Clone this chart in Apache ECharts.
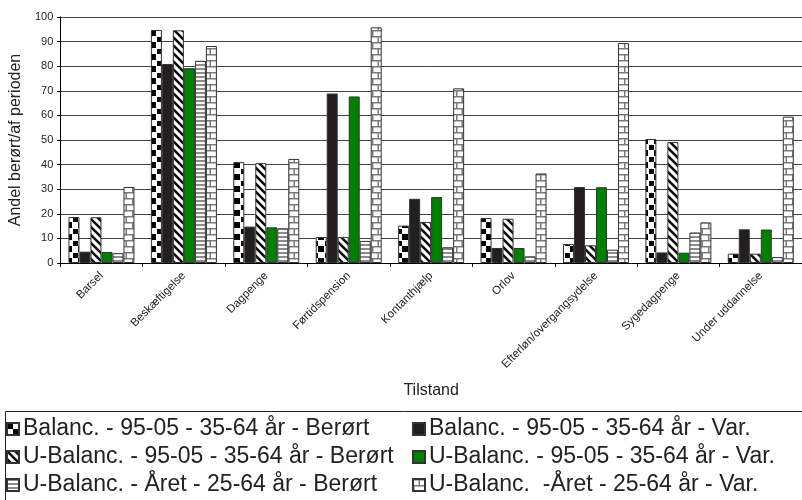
<!DOCTYPE html>
<html>
<head>
<meta charset="utf-8">
<script src="https://cdn.jsdelivr.net/npm/echarts@6/dist/echarts.min.js"></script>
<style>
  html, body { margin: 0; padding: 0; background: #fff; }
  #chart { width: 802px; height: 500px; }
</style>
</head>
<body>
<div id="chart"></div>
<script>
// Categories (Tilstand) and the six series, in percent
const categories = ['Barsel', 'Beskæftigelse', 'Dagpenge', 'Førtidspension', 'Kontanthjælp', 'Orlov', 'Efterløn/overgangsydelse', 'Sygedagpenge', 'Under uddannelse'];
const seriesNames = [
  'Balanc. - 95-05 - 35-64 år - Berørt',
  'Balanc. - 95-05 - 35-64 år - Var.',
  'U-Balanc. - 95-05 - 35-64 år - Berørt',
  'U-Balanc. - 95-05 - 35-64 år - Var.',
  'U-Balanc. - Året - 25-64 år - Berørt',
  'U-Balanc.  -Året - 25-64 år - Var.'
];
const balBerort   = [18.7, 94.7, 41.0, 10.6, 15.2, 18.3, 7.7, 50.4, 3.8];
const balVar      = [4.6, 80.9, 14.8, 68.9, 26.1, 6.1, 30.9, 4.3, 13.7];
const ubalBerort  = [18.6, 94.6, 40.6, 10.6, 16.7, 18.0, 7.2, 49.2, 3.8];
const ubalVar     = [4.5, 79.2, 14.5, 67.7, 26.8, 6.1, 30.8, 4.2, 13.6];
const aretBerort  = [4.0, 82.2, 14.1, 9.0, 6.4, 2.7, 5.4, 12.4, 2.4];
const aretVar     = [30.9, 88.2, 42.3, 95.8, 71.0, 36.4, 89.4, 16.5, 59.5];
const yTicks = [0, 10, 20, 30, 40, 50, 60, 70, 80, 90, 100];

// Fill patterns for the hatched bars
function makePattern(w, h, draw) {
  const c = document.createElement('canvas');
  c.width = w; c.height = h;
  const ctx = c.getContext('2d');
  ctx.fillStyle = '#fff';
  ctx.fillRect(0, 0, w, h);
  draw(ctx, w, h);
  return { image: c, repeat: 'repeat' };
}
const checker = makePattern(12, 12, (ctx) => {
  ctx.fillStyle = '#000';
  ctx.fillRect(1, 1, 5, 5);
  ctx.fillRect(6, 6, 6, 6);
});
const diagonal = makePattern(8, 8, (ctx) => {
  ctx.strokeStyle = '#111';
  ctx.lineWidth = 2.6;
  ctx.beginPath();
  for (let k = -8; k <= 16; k += 8) {
    ctx.moveTo(k - 8, -8);
    ctx.lineTo(k + 16, 16);
  }
  ctx.stroke();
});
const hStripes = makePattern(4, 4, (ctx) => {
  ctx.fillStyle = '#8c8c8c';
  ctx.fillRect(0, 0, 4, 2);
});
const brick = makePattern(12, 12, (ctx) => {
  ctx.fillStyle = '#7a7a7a';
  ctx.fillRect(0, 0, 12, 1.5);
  ctx.fillRect(0, 6, 12, 1.5);
  ctx.fillRect(5.5, 0, 1.5, 6);
  ctx.fillRect(0, 6, 1.5, 6);
});

const fills = [checker, '#231f20', diagonal, '#008000', hStripes, brick];
const values = [balBerort, balVar, ubalBerort, ubalVar, aretBerort, aretVar];

const chart = echarts.init(document.getElementById('chart'), null, { renderer: 'canvas' });
const font = 'Liberation Sans, Arial, sans-serif';

const legendText = { fontSize: 23, lineHeight: 28, color: '#222', fontFamily: font, padding: [0, 0, 0, -1] };

chart.setOption({
  animation: false,
  backgroundColor: '#fff',
  textStyle: { fontFamily: font },
  grid: { left: 58, top: 17, width: 748, height: 246, containLabel: false },
  xAxis: {
    type: 'category',
    data: categories,
    name: 'Tilstand',
    nameLocation: 'middle',
    nameGap: 120,
    nameTextStyle: { fontSize: 16, color: '#222', fontFamily: font },
    axisLine: { lineStyle: { color: '#000', width: 1 } },
    axisTick: { show: true, length: 4, lineStyle: { color: '#000' } },
    axisLabel: { rotate: 45, interval: 0, fontSize: 11.5, color: '#222', margin: 11, fontFamily: font },
    splitLine: { show: false }
  },
  yAxis: {
    type: 'value',
    min: yTicks[0],
    max: yTicks[yTicks.length - 1],
    interval: 10,
    name: 'Andel berørt/af perioden',
    nameLocation: 'middle',
    nameGap: 28,
    nameTextStyle: { fontSize: 16, color: '#222', fontFamily: font },
    axisLine: { show: true, lineStyle: { color: '#000', width: 1 } },
    axisTick: { show: true, length: 3, lineStyle: { color: '#000' } },
    axisLabel: { fontSize: 11, color: '#222', margin: 7, fontFamily: font },
    splitLine: { show: true, lineStyle: { color: '#444', width: 1 } }
  },
  legend: [
    {
      orient: 'vertical', left: 6, top: 415, padding: 0, itemGap: 0,
      itemWidth: 12, itemHeight: 12, icon: 'rect',
      textStyle: legendText,
      data: [seriesNames[0], seriesNames[2], seriesNames[4]]
    },
    {
      orient: 'vertical', left: 412, top: 415, padding: 0, itemGap: 0,
      itemWidth: 12, itemHeight: 12, icon: 'rect',
      textStyle: legendText,
      data: [seriesNames[1], seriesNames[3], seriesNames[5]]
    }
  ],
  graphic: [
    {
      type: 'rect', left: 3, top: 409, z: -1,
      shape: { width: 820, height: 100 },
      style: { fill: 'none', stroke: '#222', lineWidth: 1 }
    }
  ],
  series: seriesNames.map((name, i) => ({
    name: name,
    type: 'bar',
    data: values[i],
    barWidth: 11,
    barGap: '0%',
    itemStyle: { color: fills[i], borderColor: '#333', borderWidth: 1 },
    emphasis: { disabled: true }
  }))
});
</script>
</body>
</html>
